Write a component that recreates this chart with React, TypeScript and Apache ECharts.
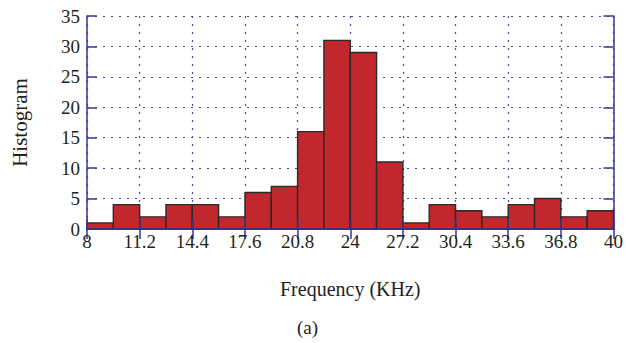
import React, { useEffect, useRef } from "react";
import * as echarts from "echarts";

const binStarts = [8, 9.6, 11.2, 12.8, 14.4, 16, 17.6, 19.2, 20.8, 22.4, 24, 25.6, 27.2, 28.8, 30.4, 32, 33.6, 35.2, 36.8, 38.4];
const binWidth = 1.6;
const counts = [1, 4, 2, 4, 4, 2, 6, 7, 16, 31, 29, 11, 1, 4, 3, 2, 4, 5, 2, 3];
const xMin = 8;
const xMax = 40;
const xInterval = 3.2;
const yMin = 0;
const yMax = 35;
const yInterval = 5;
const xName = "Frequency (KHz)";
const yName = "Histogram";
const caption = "(a)";

const FONT = "'Liberation Serif', 'DejaVu Serif', serif";
const AXIS_COLOR = "#34379a";
const GRID_COLOR = "#4347b4";
const BAR_COLOR = "#c1272d";
const TEXT_COLOR = "#231f20";

const fmt = (v: number) => String(parseFloat(v.toFixed(1)));

export default function App() {
  const ref = useRef<HTMLDivElement>(null);
  useEffect(() => {
    if (!ref.current) return;
    const chart = echarts.init(ref.current, undefined, { renderer: "svg" });
    const data = binStarts.map((s, i) => [s, s + binWidth, counts[i]]);
    const tickOnly = {
      axisLabel: { show: false },
      splitLine: { show: false },
      axisLine: { show: true, lineStyle: { color: AXIS_COLOR, width: 1.5 } },
      axisTick: { show: true, inside: true, length: 10, lineStyle: { color: AXIS_COLOR, width: 1.5 } },
    };
    chart.setOption({
      animation: false,
      grid: { left: 87, right: 10, top: 16, bottom: 114 },
      xAxis: [
        {
          type: "value",
          min: xMin,
          max: xMax,
          interval: xInterval,
          position: "bottom",
          name: xName,
          nameLocation: "middle",
          nameGap: 50,
          nameTextStyle: { fontFamily: FONT, fontSize: 20, color: TEXT_COLOR },
          axisLine: { show: true, lineStyle: { color: AXIS_COLOR, width: 1.5 } },
          axisTick: { show: false },
          axisLabel: { fontFamily: FONT, fontSize: 19, color: TEXT_COLOR, margin: 3, formatter: fmt },
          splitLine: { show: true, lineStyle: { color: GRID_COLOR, type: [2, 6], width: 1.2 } },
        },
        { type: "value", min: xMin, max: xMax, interval: xInterval, position: "top", ...tickOnly },
        { type: "value", min: xMin, max: xMax, interval: xInterval, position: "bottom", z: 10, ...tickOnly },
      ],
      yAxis: [
        {
          type: "value",
          min: yMin,
          max: yMax,
          interval: yInterval,
          position: "left",
          name: yName,
          nameLocation: "middle",
          nameGap: 57,
          nameTextStyle: { fontFamily: FONT, fontSize: 21, color: TEXT_COLOR },
          axisLine: { show: true, lineStyle: { color: AXIS_COLOR, width: 1.5 } },
          axisTick: { show: true, inside: true, length: 10, lineStyle: { color: AXIS_COLOR, width: 1.5 } },
          axisLabel: { fontFamily: FONT, fontSize: 19, color: TEXT_COLOR, margin: 7 },
          splitLine: { show: true, lineStyle: { color: GRID_COLOR, type: [2, 6], width: 1.2 } },
        },
        { type: "value", min: yMin, max: yMax, interval: yInterval, position: "right", ...tickOnly },
      ],
      series: [
        {
          type: "custom",
          xAxisIndex: 0,
          yAxisIndex: 0,
          data,
          renderItem: (params: any, api: any) => {
            const p0 = api.coord([api.value(0), api.value(2)]);
            const p1 = api.coord([api.value(1), 0]);
            return {
              type: "rect",
              shape: { x: p0[0], y: p0[1], width: p1[0] - p0[0], height: p1[1] - p0[1] },
              style: { fill: BAR_COLOR, stroke: "#2a2a2a", lineWidth: 1.4 },
            };
          },
        },
      ],
      graphic: [
        {
          type: "text",
          left: 297,
          top: 318,
          style: { text: caption, font: `19px ${FONT}`, fill: TEXT_COLOR },
        },
      ],
    });
    return () => chart.dispose();
  }, []);
  return <div ref={ref} style={{ position: "absolute", left: 0, top: 0, width: 626, height: 343 }} />;
}
